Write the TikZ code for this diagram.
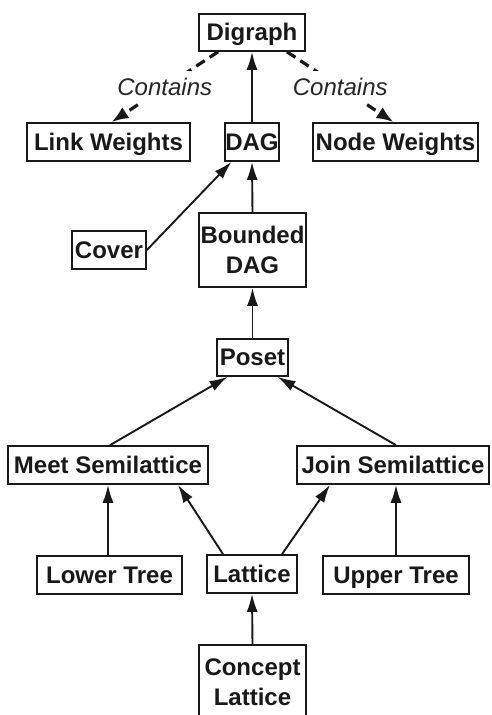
\documentclass[tikz,border=0pt]{standalone}
\usepackage{fontspec}
\setmainfont{Liberation Sans}
\usetikzlibrary{arrows.meta}
\begin{document}
\begin{tikzpicture}[x=1pt,y=-1pt,
  box/.style={draw=black!90,line width=1.7pt,inner sep=0pt,align=center,
    font=\fontsize{24}{30}\selectfont\bfseries,text=black!90},
  one/.style={text height=17.2pt,text depth=1pt},
  conn/.style={line width=1.9pt,draw=black!90,-{Latex[length=18pt,width=11pt]}},
  dconn/.style={line width=3.2pt,draw=black!90,dash pattern=on 10pt off 6pt,
    -{Latex[length=17pt,width=13pt]}},
  lbl/.style={fill=white,inner xsep=2pt,inner ysep=7pt,
    font=\fontsize{24}{30}\selectfont\itshape,text=black!85}]
\useasboundingbox (0,0) rectangle (491,715);
\clip (0,0) rectangle (491,715);
\node[box,one,minimum width=106pt,minimum height=37pt] (digraph) at (252,32.5) {Digraph};
\node[box,one,minimum width=163pt,minimum height=38pt] (link) at (108.5,142) {Link Weights};
\node[box,one,minimum width=52pt,minimum height=38pt] (dag) at (252,142) {DAG};
\node[box,one,minimum width=165pt,minimum height=38pt] (nodew) at (395.5,142) {Node Weights};
\node[box,one,minimum width=74pt,minimum height=38pt] (cover) at (109,250) {Cover};
\node[box,minimum width=107pt,minimum height=74pt] (bdag) at (252.5,250) {Bounded\\DAG};
\node[box,one,minimum width=71pt,minimum height=37pt] (poset) at (252.5,357.5) {Poset};
\node[box,one,minimum width=200pt,minimum height=38pt] (meet) at (108,465) {Meet Semilattice};
\node[box,one,minimum width=192pt,minimum height=38pt] (join) at (393,465) {Join Semilattice};
\node[box,one,minimum width=145pt,minimum height=38pt] (lower) at (109.5,575) {Lower Tree};
\node[box,one,minimum width=90pt,minimum height=38pt] (lattice) at (252,574) {Lattice};
\node[box,one,minimum width=146pt,minimum height=38pt] (upper) at (396,575) {Upper Tree};
\node[box,minimum width=107pt,minimum height=74pt] (concept) at (252.5,682) {Concept\\Lattice};

\draw[conn] (dag.north) -- (digraph.south);
\draw[dconn] ([xshift=-34pt]digraph.south) -- node[lbl]{Contains} ([xshift=3pt]link.north);
\draw[dconn] ([xshift=35pt]digraph.south) -- node[lbl]{Contains} ([xshift=-2pt]nodew.north);
\draw[conn] (cover.east) -- ([xshift=7pt]dag.south west);
\draw[conn] (bdag.north) -- (dag.south);
\draw[conn] (poset.north) -- (bdag.south);
\draw[conn] ([xshift=2pt]meet.north) -- ([xshift=-25pt]poset.south);
\draw[conn] ([xshift=3pt]join.north) -- ([xshift=25pt]poset.south);
\draw[conn] ([xshift=-1.5pt]lower.north) -- ([xshift=0pt]meet.south);
\draw[conn] ([xshift=-29pt]lattice.north) -- ([xshift=70pt]meet.south);
\draw[conn] ([xshift=30pt]lattice.north) -- ([xshift=-63pt]join.south);
\draw[conn] (upper.north) -- ([xshift=3pt]join.south);
\draw[conn] (concept.north) -- (lattice.south);
\end{tikzpicture}
\end{document}
